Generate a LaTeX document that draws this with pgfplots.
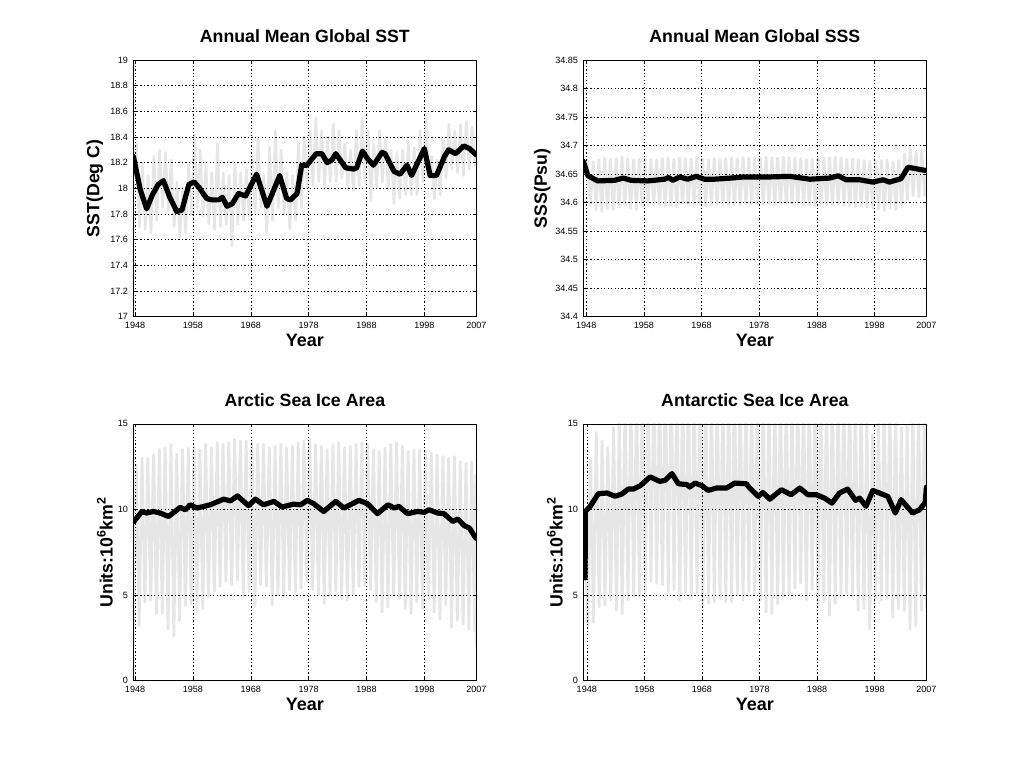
\documentclass[border=0pt]{standalone}
\usepackage{pgfplots}
\pgfplotsset{compat=1.18}
\usepackage{fontspec}
\setmainfont{Liberation Sans}
\definecolor{lg}{RGB}{230,230,230}
\pgfplotsset{
  mat/.style={
    scale only axis, width=257.3pt, height=192.5pt,
    xmax=2007,
    xtick={1948,1958,1968,1978,1988,1998,2007},
    /pgf/number format/1000 sep={},
    /pgf/number format/assume math mode=true,
    grid=major,
    major grid style={black, line width=0.35pt, dash pattern=on 1pt off 1.6pt},
    tick align=inside, major tick length=2.5pt,
    tick style={black, line width=0.4pt},
    axis line style={line width=0.5pt},
    axis on top,
    ticklabel style={font=\fontsize{6.8}{8}\selectfont},
    xticklabel style={anchor=base, yshift=-9.2pt},
    yticklabel style={xshift=-0.5pt},
    title style={font=\fontsize{13.3}{15}\selectfont\bfseries, at={(axis description cs:0.5,1)}, anchor=base, yshift=7.2pt},
    xlabel={Year},
    xlabel style={font=\fontsize{13.5}{15}\selectfont\bfseries, at={(axis description cs:0.5,0)}, anchor=base, yshift=-22.4pt},
    ylabel style={font=\fontsize{13.3}{15}\selectfont\bfseries, anchor=center},
  },
  gr/.style={lg, line width=2.1pt, line join=round},
  bk/.style={black, line width=3.9pt, line join=round, line cap=round},
}
\begin{document}
\begin{tikzpicture}
\useasboundingbox (0,0) rectangle (768pt,576pt);
% ---------------- SST ----------------
\begin{axis}[mat, at={(100pt,338.5pt)}, anchor=south west,
  xmin=1947.7, ymin=17, ymax=19,
  ytick={17,17.2,17.4,17.6,17.8,18,18.2,18.4,18.6,18.8,19},
  title={Annual Mean Global SST},
  ylabel={SST(Deg C)},
  ylabel style={at={(axis description cs:-0.112,0.5)}}]
\addplot[gr, line width=1.9pt] coordinates {
(1947.7,18.1)(1948.25,18.35)(1948.75,17.7)(1949.25,18.2)(1949.75,17.68)(1950.25,18.1)(1950.75,17.65)
(1951.25,18.25)(1951.75,17.75)(1952.25,18.3)(1952.75,17.85)(1953.25,18.28)(1953.75,17.82)
(1954.25,18.22)(1954.75,17.7)(1955.25,18.05)(1955.75,17.62)(1956.25,18.0)(1956.75,17.65)
(1957.25,18.2)(1957.75,17.8)(1958.25,18.42)(1958.75,17.85)(1959.25,18.3)(1959.75,17.78)
(1960.25,18.18)(1960.75,17.72)(1961.25,18.12)(1961.75,17.68)(1962.25,18.35)(1962.75,17.7)
(1963.25,18.12)(1963.75,17.72)(1964.25,18.1)(1964.75,17.55)(1965.25,18.2)(1965.75,17.72)
(1966.25,18.12)(1966.75,17.75)(1967.25,18.15)(1967.75,17.78)(1968.25,18.25)(1968.75,17.8)
(1969.25,18.4)(1969.75,17.85)(1970.25,18.1)(1970.75,17.65)(1971.25,18.32)(1971.75,17.75)
(1972.25,18.45)(1972.75,17.85)(1973.25,18.3)(1973.75,17.8)(1974.25,18.12)(1974.75,17.68)
(1975.25,18.1)(1975.75,17.75)(1976.25,18.35)(1976.75,17.85)(1977.25,18.4)(1977.75,18.0)
(1978.25,18.45)(1978.75,18.02)(1979.25,18.55)(1979.75,18.05)(1980.25,18.45)(1980.75,18.0)
(1981.25,18.4)(1981.75,18.05)(1982.25,18.5)(1982.75,18.05)(1983.25,18.45)(1983.75,18.08)
(1984.25,18.35)(1984.75,18.0)(1985.25,18.3)(1985.75,17.98)(1986.25,18.45)(1986.75,18.02)
(1987.25,18.55)(1987.75,18.05)(1988.25,18.45)(1988.75,17.9)(1989.25,18.35)(1989.75,18.0)
(1990.25,18.45)(1990.75,18.05)(1991.25,18.4)(1991.75,18.0)(1992.25,18.3)(1992.75,17.88)
(1993.25,18.28)(1993.75,17.92)(1994.25,18.3)(1994.75,17.95)(1995.25,18.35)(1995.75,17.95)
(1996.25,18.32)(1996.75,17.95)(1997.25,18.45)(1997.75,18.05)(1998.25,18.55)(1998.75,18.1)
(1999.25,18.25)(1999.75,17.92)(2000.25,18.22)(2000.75,17.95)(2001.25,18.4)(2001.75,18.08)
(2002.25,18.5)(2002.75,18.15)(2003.25,18.45)(2003.75,18.12)(2004.25,18.5)(2004.75,18.1)
(2005.25,18.52)(2005.75,18.15)(2006.25,18.48)(2006.75,18.18)(2007,18.25)};
\addplot[bk] coordinates {
(1947.7,18.25)(1948.9,17.99)(1950.0,17.84)(1951,17.95)(1952,18.03)(1952.9,18.06)(1954,17.93)
(1955.2,17.82)(1956.1,17.83)(1957.3,18.03)(1958.2,18.05)(1959,18.01)(1960.4,17.92)(1961.3,17.91)
(1962.5,17.91)(1963.1,17.93)(1963.9,17.86)(1964.8,17.88)(1965.9,17.96)(1967.1,17.94)(1969,18.11)
(1970.8,17.86)(1973,18.1)(1974.2,17.92)(1974.9,17.91)(1976,17.96)(1976.8,18.18)(1977.7,18.18)
(1979.3,18.27)(1980.3,18.27)(1981.2,18.2)(1982,18.22)(1982.7,18.27)(1984.4,18.16)(1985.8,18.15)
(1986.3,18.16)(1987.3,18.29)(1988.2,18.23)(1989.2,18.18)(1990.7,18.28)(1991.2,18.27)(1992.8,18.13)
(1993.8,18.11)(1995,18.18)(1995.8,18.1)(1998,18.31)(1999,18.1)(2000.1,18.1)(2001.5,18.25)
(2002.2,18.3)(2003.4,18.27)(2004.8,18.33)(2005.8,18.31)(2007,18.26)};
\end{axis}
% ---------------- SSS ----------------
\begin{axis}[mat, at={(437.5pt,338.5pt)}, anchor=south west,
  xmin=1947.5, ymin=34.4, ymax=34.85,
  ytick={34.4,34.45,34.5,34.55,34.6,34.65,34.7,34.75,34.8,34.85},
  yticklabel style={/pgf/number format/.cd, fixed, precision=2},
  title={Annual Mean Global SSS},
  ylabel={SSS(Psu)},
  ylabel style={at={(axis description cs:-0.12,0.5)}}]
\addplot[gr] coordinates {
(1947.6,34.66)(1948.2,34.675)(1948.7,34.595)(1949.2,34.672)(1949.7,34.588)(1950.2,34.675)(1950.7,34.585)
(1951.2,34.678)(1951.7,34.590)(1952.2,34.676)(1952.7,34.588)(1953.2,34.678)(1953.7,34.592)
(1954.2,34.680)(1954.7,34.595)(1955.2,34.677)(1955.7,34.590)(1956.2,34.675)(1956.7,34.588)
(1957.2,34.676)(1957.7,34.593)(1958.2,34.674)(1958.7,34.595)(1959.2,34.676)(1959.7,34.595)
(1960.2,34.675)(1960.7,34.596)(1961.2,34.677)(1961.7,34.594)(1962.2,34.678)(1962.7,34.595)
(1963.2,34.676)(1963.7,34.592)(1964.2,34.679)(1964.7,34.598)(1965.2,34.677)(1965.7,34.596)
(1966.2,34.676)(1966.7,34.595)(1967.2,34.680)(1967.7,34.598)(1968.2,34.676)(1968.7,34.594)
(1969.2,34.675)(1969.7,34.596)(1970.2,34.677)(1970.7,34.597)(1971.2,34.676)(1971.7,34.596)
(1972.2,34.677)(1972.7,34.595)(1973.2,34.678)(1973.7,34.597)(1974.2,34.677)(1974.7,34.596)
(1975.2,34.679)(1975.7,34.598)(1976.2,34.678)(1976.7,34.597)(1977.2,34.679)(1977.7,34.598)
(1978.2,34.678)(1978.7,34.597)(1979.2,34.680)(1979.7,34.598)(1980.2,34.679)(1980.7,34.597)
(1981.2,34.678)(1981.7,34.598)(1982.2,34.680)(1982.7,34.599)(1983.2,34.679)(1983.7,34.598)
(1984.2,34.678)(1984.7,34.597)(1985.2,34.677)(1985.7,34.596)(1986.2,34.676)(1986.7,34.596)
(1987.2,34.676)(1987.7,34.594)(1988.2,34.677)(1988.7,34.595)(1989.2,34.678)(1989.7,34.596)
(1990.2,34.679)(1990.7,34.597)(1991.2,34.680)(1991.7,34.598)(1992.2,34.678)(1992.7,34.595)
(1993.2,34.676)(1993.7,34.594)(1994.2,34.676)(1994.7,34.593)(1995.2,34.675)(1995.7,34.594)
(1996.2,34.674)(1996.7,34.592)(1997.2,34.673)(1997.7,34.590)(1998.2,34.672)(1998.7,34.588)
(1999.2,34.674)(1999.7,34.586)(2000.2,34.675)(2000.7,34.590)(2001.2,34.672)(2001.7,34.588)
(2002.2,34.674)(2002.7,34.596)(2003.2,34.685)(2003.7,34.605)(2004.2,34.695)(2004.7,34.612)
(2005.2,34.690)(2005.7,34.610)(2006.2,34.692)(2006.7,34.612)(2007,34.66)};
\addplot[bk] coordinates {
(1947.5,34.672)(1948.3,34.647)(1950,34.638)(1952.9,34.639)(1954.4,34.643)(1955.8,34.639)
(1958.7,34.638)(1961.6,34.641)(1962.3,34.644)(1963,34.639)(1964.2,34.645)(1965.6,34.641)
(1967.1,34.646)(1968.5,34.641)(1970.2,34.641)(1973.1,34.643)(1975.4,34.645)(1977.4,34.645)
(1979.9,34.645)(1983.3,34.646)(1986.8,34.641)(1990.2,34.643)(1991.7,34.647)(1993.1,34.640)
(1995.4,34.640)(1997.7,34.636)(1999.5,34.640)(2000.6,34.636)(2002.6,34.642)(2003.8,34.662)
(2007,34.656)};
\end{axis}
% ---------------- Arctic ----------------
\begin{axis}[mat, at={(100pt,65.6pt)}, anchor=south west,
  xmin=1947.7, ymin=0, ymax=15, ytick={0,5,10,15},
  title={Arctic Sea Ice Area},
  ylabel={Units:10\textsuperscript{6}km\textsuperscript{2}},
  ylabel style={at={(axis description cs:-0.083,0.5)}}]
\addplot[gr] coordinates {
(1947.7,11.8)(1947.75,3.2)(1948.2,12.6)(1948.7,3.2)(1949.2,13.0)(1949.7,4.6)(1950.2,13.0)(1950.7,4.7)
(1951.2,13.2)(1951.7,3.9)(1952.2,13.5)(1952.7,3.9)(1953.2,13.6)(1953.7,3.0)(1954.2,13.8)(1954.7,2.6)
(1955.2,13.2)(1955.7,3.5)(1956.2,13.5)(1956.7,4.4)(1957.2,13.6)(1957.7,4.5)(1958.2,13.7)(1958.7,4.1)
(1959.2,13.5)(1959.7,4.2)(1960.2,13.8)(1960.7,4.9)(1961.2,13.6)(1961.7,5.2)(1962.2,13.9)(1962.7,5.5)
(1963.2,13.8)(1963.7,5.8)(1964.2,13.9)(1964.7,5.6)(1965.2,14.1)(1965.7,5.9)(1966.2,14.0)(1966.7,5.0)
(1967.2,14.0)(1967.7,5.2)(1968.2,13.9)(1968.7,4.3)(1969.2,13.8)(1969.7,5.6)(1970.2,13.8)(1970.7,5.5)
(1971.2,13.6)(1971.7,4.4)(1972.2,13.7)(1972.7,5.0)(1973.2,13.8)(1973.7,4.9)(1974.2,13.6)(1974.7,5.3)
(1975.2,13.7)(1975.7,5.2)(1976.2,13.9)(1976.7,5.4)(1977.2,14.0)(1977.7,5.8)(1978.2,14.1)(1978.7,5.3)
(1979.2,13.8)(1979.7,5.0)(1980.2,13.7)(1980.7,4.5)(1981.2,13.5)(1981.7,5.0)(1982.2,13.8)(1982.7,5.2)
(1983.2,13.9)(1983.7,4.8)(1984.2,13.6)(1984.7,4.7)(1985.2,13.7)(1985.7,5.0)(1986.2,13.8)(1986.7,5.5)
(1987.2,13.9)(1987.7,5.6)(1988.2,13.8)(1988.7,5.3)(1989.2,13.5)(1989.7,4.6)(1990.2,13.4)(1990.7,4.0)
(1991.2,13.6)(1991.7,4.3)(1992.2,13.8)(1992.7,5.0)(1993.2,13.9)(1993.7,4.8)(1994.2,13.7)(1994.7,4.2)
(1995.2,13.4)(1995.7,3.9)(1996.2,13.5)(1996.7,4.6)(1997.2,13.5)(1997.7,4.2)(1998.2,13.4)(1998.7,4.8)
(1999.2,13.3)(1999.7,4.0)(2000.2,13.2)(2000.7,3.6)(2001.2,13.1)(2001.7,4.4)(2002.2,13.0)(2002.7,3.1)
(2003.2,13.1)(2003.7,3.5)(2004.2,12.8)(2004.7,3.3)(2005.2,12.7)(2005.7,3.0)(2006.2,12.8)(2006.7,2.9)
(2006.88,12.0)(2007,2.0)};
\addplot[bk] coordinates {
(1947.8,9.30)(1949.2,9.88)(1950,9.79)(1951.2,9.88)(1952.3,9.79)(1953.8,9.59)(1955.8,10.12)
(1956.7,9.98)(1957.5,10.27)(1958.7,10.08)(1961,10.27)(1963.3,10.6)(1964.5,10.5)(1965.7,10.79)
(1967.6,10.22)(1968.8,10.6)(1970.2,10.27)(1972,10.47)(1973.4,10.14)(1975.4,10.31)(1976.6,10.27)
(1977.8,10.53)(1978.9,10.33)(1980.6,9.88)(1982.7,10.47)(1984.1,10.08)(1986.7,10.53)(1988.2,10.33)
(1989.9,9.75)(1991.7,10.27)(1992.8,10.08)(1993.6,10.18)(1995.1,9.75)(1996.8,9.88)(1998,9.83)
(1998.8,9.98)(2000.3,9.79)(2001.4,9.75)(2002.9,9.30)(2003.8,9.44)(2004.9,9.05)(2005.8,8.91)
(2006.9,8.32)};
\end{axis}
% ---------------- Antarctic ----------------
\begin{axis}[mat, at={(437.5pt,65.6pt)}, anchor=south west,
  xmin=1947.4, ymin=0, ymax=15, ytick={0,5,10,15},
  title={Antarctic Sea Ice Area},
  ylabel={Units:10\textsuperscript{6}km\textsuperscript{2}},
  ylabel style={at={(axis description cs:-0.083,0.5)}}]
\addplot[gr] coordinates {
(1947.6,10.0)(1948.15,3.2)(1948.65,13.0)(1949.15,3.4)(1949.65,14.5)(1950.15,4.3)(1950.65,14.0)
(1951.15,4.4)(1951.65,13.6)(1952.15,4.7)(1952.65,14.8)(1953.15,4.1)(1953.65,15.5)(1954.15,3.9)
(1954.65,16.5)(1955.15,4.7)(1955.65,16.8)(1956.15,4.9)(1956.65,17.0)(1957.15,4.9)(1957.65,17.2)
(1958.15,5.2)(1958.65,17.5)(1959.15,5.8)(1959.65,17.8)(1960.15,5.7)(1960.65,17.6)(1961.15,5.6)
(1961.65,17.8)(1962.15,5.2)(1962.65,18.0)(1963.15,5.3)(1963.65,17.5)(1964.15,4.7)(1964.65,17.4)
(1965.15,5.2)(1965.65,17.2)(1966.15,4.8)(1966.65,17.5)(1967.15,5.1)(1967.65,17.3)(1968.15,4.3)
(1968.65,17.0)(1969.15,4.5)(1969.65,17.1)(1970.15,4.6)(1970.65,17.2)(1971.15,4.8)(1971.65,17.3)
(1972.15,4.6)(1972.65,17.2)(1973.15,4.6)(1973.65,17.6)(1974.15,5.0)(1974.65,17.5)(1975.15,4.7)
(1975.65,17.4)(1976.15,5.2)(1976.65,17.0)(1977.15,5.0)(1977.65,16.8)(1978.15,4.7)(1978.65,17.0)
(1979.15,4.0)(1979.65,16.6)(1980.15,3.9)(1980.65,17.0)(1981.15,4.5)(1981.65,17.1)(1982.15,4.9)
(1982.65,16.9)(1983.15,5.1)(1983.65,17.2)(1984.15,5.4)(1984.65,17.0)(1985.15,5.7)(1985.65,16.8)
(1986.15,4.7)(1986.65,16.9)(1987.15,5.3)(1987.65,16.7)(1988.15,4.3)(1988.65,16.6)(1989.15,4.6)
(1989.65,16.4)(1990.15,3.8)(1990.65,16.8)(1991.15,4.5)(1991.65,17.0)(1992.15,4.9)(1992.65,17.2)
(1993.15,5.1)(1993.65,16.8)(1994.15,4.9)(1994.65,16.6)(1995.15,4.1)(1995.65,16.5)(1996.15,4.2)
(1996.65,15.2)(1997.15,3.0)(1997.65,14.4)(1998.15,4.8)(1998.65,15.5)(1999.15,4.7)(1999.65,16.8)
(2000.15,4.8)(2000.65,16.5)(2001.15,3.7)(2001.65,16.0)(2002.15,4.2)(2002.65,14.8)(2003.15,4.1)
(2003.65,14.9)(2004.15,3.0)(2004.65,16.0)(2005.15,3.2)(2005.65,16.2)(2006.15,4.1)(2006.65,16.0)
(2007,4.2)};
\addplot[bk] coordinates {
(1947.7,6.0)(1947.75,9.88)(1948.6,10.18)(1950,10.92)(1951.5,10.96)(1952.9,10.77)(1954.1,10.9)
(1955.2,11.19)(1956.1,11.19)(1957.3,11.39)(1959,11.9)(1960.7,11.64)(1961.6,11.7)(1962.8,12.09)
(1963.9,11.5)(1965.4,11.45)(1965.9,11.31)(1966.8,11.54)(1968,11.39)(1969.1,11.11)(1970.5,11.25)
(1972.3,11.25)(1973.7,11.54)(1975.7,11.5)(1976.3,11.25)(1977.8,10.76)(1978.6,10.99)(1979.8,10.6)
(1981.8,11.15)(1983.5,10.86)(1985,11.25)(1986.4,10.86)(1987.9,10.86)(1989.3,10.66)(1990.6,10.37)
(1991.9,10.96)(1993.3,11.19)(1994.7,10.53)(1995.4,10.66)(1996.5,10.18)(1997.7,11.11)(1999.1,10.92)
(2000.3,10.76)(2001.6,9.79)(2002.6,10.57)(2004.6,9.79)(2005.8,9.98)(2006.8,10.41)(2007,11.3)};
\end{axis}
\end{tikzpicture}
\end{document}
